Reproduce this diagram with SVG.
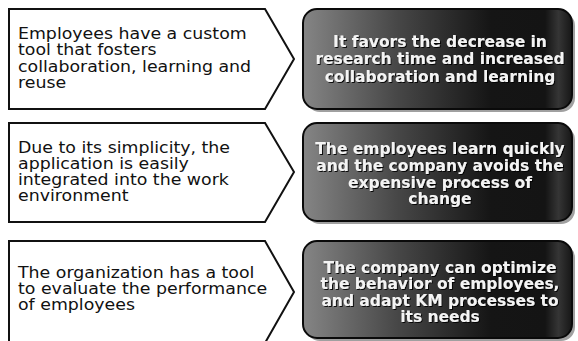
<svg xmlns="http://www.w3.org/2000/svg" width="578" height="341" viewBox="0 0 578 341">
<defs>
<linearGradient id="dark" x1="0" y1="0" x2="1" y2="0">
<stop offset="0" stop-color="#858585"/>
<stop offset="0.35" stop-color="#474747"/>
<stop offset="0.7" stop-color="#151515"/>
<stop offset="0.9" stop-color="#141414"/>
<stop offset="0.95" stop-color="#353535"/>
<stop offset="1" stop-color="#161616"/>
</linearGradient>
<filter id="ts" x="-10%" y="-10%" width="120%" height="130%">
<feDropShadow dx="1" dy="1" stdDeviation="0.6" flood-color="#000" flood-opacity="0.9"/>
</filter>
</defs>
<style>
.arrow{fill:#fff;stroke:#111;stroke-width:2;stroke-linejoin:miter}
.shadow{fill:#a0a0a0}
.res{fill:url(#dark);stroke:#0a0a0a;stroke-width:2}
.lt{font-family:"DejaVu Sans",Verdana,sans-serif;font-size:15px;fill:#111}
.rt{font-family:"DejaVu Sans",Verdana,sans-serif;font-size:15px;font-weight:bold;fill:#f4f4f4;text-anchor:middle}
</style>
<rect width="578" height="341" fill="#fff"/>
<g id="cause1">
<polygon class="arrow" points="9,9 265,9 294,59 265,109 9,109"/>
<text class="lt" transform="translate(18,0) scale(1.157,1)"><tspan x="0" y="39">Employees have a custom</tspan><tspan x="0" y="55">tool that fosters</tspan><tspan x="0" y="72">collaboration, learning and</tspan><tspan x="0" y="88">reuse</tspan></text>
</g>
<g id="effect1">
<rect class="shadow" x="306" y="12" width="269" height="100" rx="14"/>
<rect class="res" x="303" y="9" width="269" height="100" rx="14"/>
<text class="rt" filter="url(#ts)" transform="translate(440,0) scale(1.033,1)"><tspan x="0" y="47">It favors the decrease in</tspan><tspan x="0" y="64">research time and increased</tspan><tspan x="0" y="82">collaboration and learning</tspan></text>
</g>
<g id="cause2">
<polygon class="arrow" points="9,123 265,123 294,172 265,222 9,222"/>
<text class="lt" transform="translate(18,0) scale(1.157,1)"><tspan x="0" y="153">Due to its simplicity, the</tspan><tspan x="0" y="169">application is easily</tspan><tspan x="0" y="185">integrated into the work</tspan><tspan x="0" y="201">environment</tspan></text>
</g>
<g id="effect2">
<rect class="shadow" x="306" y="126" width="269" height="98" rx="14"/>
<rect class="res" x="303" y="123" width="269" height="98" rx="14"/>
<text class="rt" filter="url(#ts)" transform="translate(440,0) scale(1.033,1)"><tspan x="0" y="154">The employees learn quickly</tspan><tspan x="0" y="171">and the company avoids the</tspan><tspan x="0" y="188">expensive process of</tspan><tspan x="0" y="204">change</tspan></text>
</g>
<g id="cause3">
<polygon class="arrow" points="9,241 265,241 294,292 265,343 9,343"/>
<text class="lt" transform="translate(18,0) scale(1.157,1)"><tspan x="0" y="278">The organization has a tool</tspan><tspan x="0" y="294">to evaluate the performance</tspan><tspan x="0" y="310">of employees</tspan></text>
</g>
<g id="effect3">
<rect class="shadow" x="306" y="244" width="269" height="97" rx="14"/>
<rect class="res" x="303" y="241" width="269" height="97" rx="14"/>
<text class="rt" filter="url(#ts)" transform="translate(440,0) scale(1.033,1)"><tspan x="0" y="273">The company can optimize</tspan><tspan x="0" y="289">the behavior of employees,</tspan><tspan x="0" y="306">and adapt KM processes to</tspan><tspan x="0" y="322">its needs</tspan></text>
</g>
<g id="connectors"/>
</svg>
